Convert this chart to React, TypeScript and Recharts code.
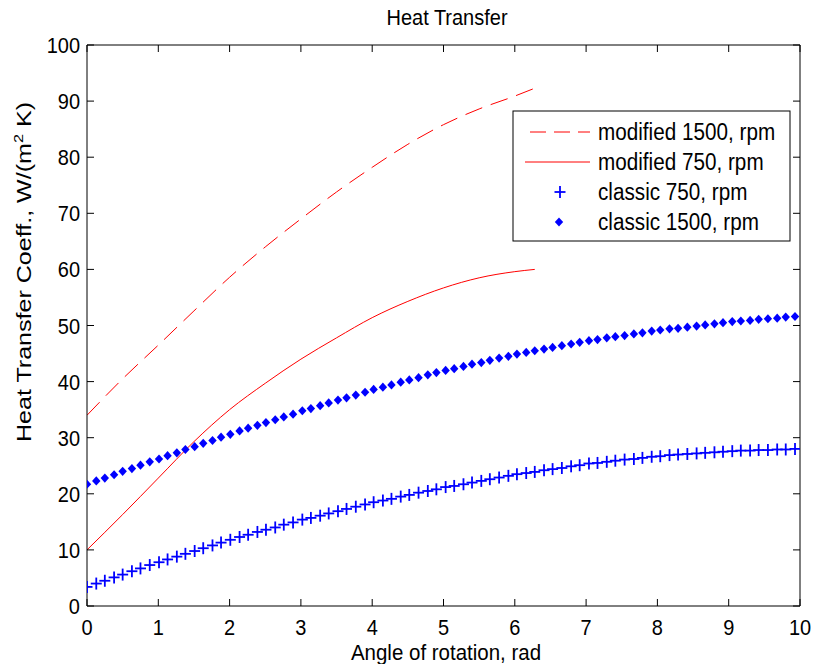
import { ComposedChart, Line, XAxis, YAxis, ReferenceLine } from "recharts";

// marker positions of the two "classic" series (rad)
const angleMarkers = [
  0, 0.13, 0.25, 0.38, 0.5, 0.63, 0.75, 0.88, 1.01, 1.13,
  1.26, 1.38, 1.51, 1.63, 1.76, 1.88, 2.01, 2.14, 2.26, 2.39,
  2.51, 2.64, 2.76, 2.89, 3.02, 3.14, 3.27, 3.39, 3.52, 3.64,
  3.77, 3.9, 4.02, 4.15, 4.27, 4.4, 4.52, 4.65, 4.78, 4.9,
  5.03, 5.15, 5.28, 5.4, 5.53, 5.65, 5.78, 5.91, 6.03, 6.16,
  6.28, 6.41, 6.53, 6.66, 6.79, 6.91, 7.04, 7.16, 7.29, 7.41,
  7.54, 7.67, 7.79, 7.92, 8.04, 8.17, 8.29, 8.42, 8.55, 8.67,
  8.8, 8.92, 9.05, 9.17, 9.3, 9.42, 9.55, 9.68, 9.8, 9.93,
];

const classic750 = [
  3.4, 4.0, 4.5, 5.1, 5.6, 6.2, 6.7, 7.3, 7.8, 8.3,
  8.8, 9.3, 9.8, 10.3, 10.8, 11.3, 11.8, 12.3, 12.7, 13.2,
  13.6, 14.0, 14.5, 14.9, 15.4, 15.7, 16.1, 16.5, 16.9, 17.3,
  17.7, 18.1, 18.5, 18.8, 19.1, 19.5, 19.8, 20.2, 20.5, 20.8,
  21.2, 21.4, 21.7, 22.0, 22.3, 22.6, 22.9, 23.2, 23.5, 23.7,
  23.9, 24.2, 24.4, 24.6, 24.9, 25.1, 25.4, 25.5, 25.7, 25.9,
  26.1, 26.2, 26.4, 26.6, 26.7, 26.9, 27.0, 27.1, 27.2, 27.3,
  27.4, 27.5, 27.6, 27.7, 27.7, 27.8, 27.8, 27.9, 27.9, 28.0,
];

const classic1500 = [
  21.7, 22.3, 22.8, 23.4, 24.0, 24.5, 25.1, 25.7, 26.2, 26.8,
  27.3, 27.9, 28.4, 29.0, 29.5, 30.1, 30.6, 31.2, 31.7, 32.2,
  32.7, 33.2, 33.7, 34.2, 34.8, 35.2, 35.7, 36.2, 36.7, 37.1,
  37.6, 38.1, 38.6, 39.0, 39.4, 39.9, 40.3, 40.7, 41.2, 41.6,
  42.0, 42.3, 42.7, 43.1, 43.4, 43.8, 44.2, 44.5, 44.9, 45.2,
  45.5, 45.8, 46.1, 46.4, 46.7, 47.0, 47.3, 47.5, 47.8, 48.0,
  48.2, 48.5, 48.7, 49.0, 49.2, 49.4, 49.5, 49.7, 49.9, 50.1,
  50.3, 50.5, 50.7, 50.8, 50.9, 51.1, 51.2, 51.3, 51.5, 51.6,
];

// the "modified" curves stop at 2*pi
const angleModified = [0, 0.5, 1, 1.5, 2, 2.5, 3, 3.5, 4, 4.5, 5, 5.5, 6, 6.28];
const modified1500 = [34, 40.5, 46.5, 52.6, 58.6, 64, 69, 73.8, 78.2, 82.3, 85.8, 88.6, 90.9, 92.3];
const modified750 = [10, 16.3, 22.8, 29.3, 35, 39.7, 44, 47.8, 51.4, 54.3, 56.7, 58.5, 59.6, 60];

const xTicks = [0, 1, 2, 3, 4, 5, 6, 7, 8, 9, 10];
const yTicks = [0, 10, 20, 30, 40, 50, 60, 70, 80, 90, 100];

const W = 815;
const H = 664;
const TOP = 45;
const BOTTOM = 606;
const LEFT = 87;
const RIGHT = 800;
const FONT = '"Liberation Sans", Arial, sans-serif';
const RED = "#ff0000";
const BLUE = "#0000ff";
const SY = 1.12; // matlab text looks a bit taller than wide

const rows = (xs: number[], ys: number[]) => xs.map((x, i) => ({ x, y: ys[i] }));

const Txt = ({ x, y, anchor = "start", size = 20, children }: any) => (
  <text
    transform={`translate(${x},${y}) scale(1,${SY})`}
    textAnchor={anchor}
    fontSize={size}
    fontFamily={FONT}
    fill="#000"
  >
    {children}
  </text>
);

const XTick = (props: any) => {
  const { x, payload } = props;
  return (
    <g>
      <line x1={x} x2={x} y1={BOTTOM} y2={BOTTOM - 7} stroke="#000" />
      <line x1={x} x2={x} y1={TOP} y2={TOP + 7} stroke="#000" />
      <Txt x={x} y={BOTTOM + 29} anchor="middle">{payload.value}</Txt>
    </g>
  );
};

const YTick = (props: any) => {
  const { y, payload } = props;
  return (
    <g>
      <line x1={LEFT} x2={LEFT + 7} y1={y} y2={y} stroke="#000" />
      <line x1={RIGHT} x2={RIGHT - 7} y1={y} y2={y} stroke="#000" />
      <Txt x={LEFT - 7} y={y + 8} anchor="end">{payload.value}</Txt>
    </g>
  );
};

const PlusDot = (props: any) => {
  const { cx, cy, index } = props;
  if (cx == null || cy == null) return <g key={index} />;
  return (
    <g key={index}>
      <line x1={cx - 5.5} x2={cx + 5.5} y1={cy} y2={cy} stroke={BLUE} strokeWidth={1.8} />
      <line x1={cx} x2={cx} y1={cy - 6} y2={cy + 6} stroke={BLUE} strokeWidth={1.8} />
    </g>
  );
};

const DiamondDot = (props: any) => {
  const { cx, cy, index } = props;
  if (cx == null || cy == null) return <g key={index} />;
  return (
    <polygon
      key={index}
      points={`${cx},${cy - 4.6} ${cx + 4.2},${cy} ${cx},${cy + 4.6} ${cx - 4.2},${cy}`}
      fill={BLUE}
    />
  );
};

function Overlay() {
  const rowY = [132, 162, 192, 222];
  return (
    <svg
      width={W}
      height={H}
      style={{ position: "absolute", left: 0, top: 0, pointerEvents: "none" }}
    >
      <Txt x={447} y={25} anchor="middle">Heat Transfer</Txt>
      <Txt x={446} y={660} anchor="middle" size={20.5}>Angle of rotation, rad</Txt>
      <text
        transform="translate(31, 272) rotate(-90)"
        textAnchor="middle"
        fontSize={20}
        fontFamily={FONT}
        fill="#000"
        textLength={340}
        lengthAdjust="spacingAndGlyphs"
      >
        Heat Transfer Coeff., W/(m
        <tspan dy={-8} fontSize={13}>2</tspan>
        <tspan dy={8}> K)</tspan>
      </text>

      <rect x={513} y={111} width={277} height={130} fill="#fff" stroke="#000" strokeWidth={1} />
      <line x1={530} x2={590} y1={rowY[0]} y2={rowY[0]} stroke={RED} strokeDasharray="16 8" />
      <line x1={525} x2={590} y1={rowY[1]} y2={rowY[1]} stroke={RED} />
      <PlusDot cx={560} cy={rowY[2]} index={0} />
      <DiamondDot cx={559} cy={rowY[3]} index={0} />
      <Txt x={598} y={rowY[0] + 8} size={20.7}>modified 1500, rpm</Txt>
      <Txt x={598} y={rowY[1] + 8} size={20.7}>modified 750, rpm</Txt>
      <Txt x={598} y={rowY[2] + 8} size={20.7}>classic 750, rpm</Txt>
      <Txt x={598} y={rowY[3] + 8} size={20.7}>classic 1500, rpm</Txt>
    </svg>
  );
}

export default function App() {
  return (
    <div style={{ position: "absolute", left: 0, top: 0, width: W, height: H, background: "#fff" }}>
      <ComposedChart
        width={W}
        height={H}
        margin={{ top: TOP, right: W - RIGHT, bottom: 18, left: 27 }}
      >
        <XAxis
          xAxisId={0}
          type="number"
          dataKey="x"
          domain={[0, 10]}
          ticks={xTicks}
          interval={0}
          allowDataOverflow
          height={40}
          axisLine={{ stroke: "#000" }}
          tickLine={false}
          tick={<XTick />}
        />
        <YAxis
          yAxisId={0}
          type="number"
          domain={[0, 100]}
          ticks={yTicks}
          interval={0}
          allowDataOverflow
          width={60}
          axisLine={{ stroke: "#000" }}
          tickLine={false}
          tick={<YTick />}
        />
        <ReferenceLine y={100} stroke="#000" />
        <ReferenceLine x={10} stroke="#000" />

        <Line
          data={rows(angleModified, modified1500)}
          dataKey="y"
          type="monotone"
          stroke={RED}
          strokeWidth={1}
          strokeDasharray="18 9"
          dot={false}
          activeDot={false}
          isAnimationActive={false}
        />
        <Line
          data={rows(angleModified, modified750)}
          dataKey="y"
          type="monotone"
          stroke={RED}
          strokeWidth={1}
          dot={false}
          activeDot={false}
          isAnimationActive={false}
        />
        <Line
          data={rows(angleMarkers, classic750)}
          dataKey="y"
          stroke="none"
          dot={<PlusDot />}
          activeDot={false}
          isAnimationActive={false}
        />
        <Line
          data={rows(angleMarkers, classic1500)}
          dataKey="y"
          stroke="none"
          dot={<DiamondDot />}
          activeDot={false}
          isAnimationActive={false}
        />
      </ComposedChart>
      <Overlay />
    </div>
  );
}
